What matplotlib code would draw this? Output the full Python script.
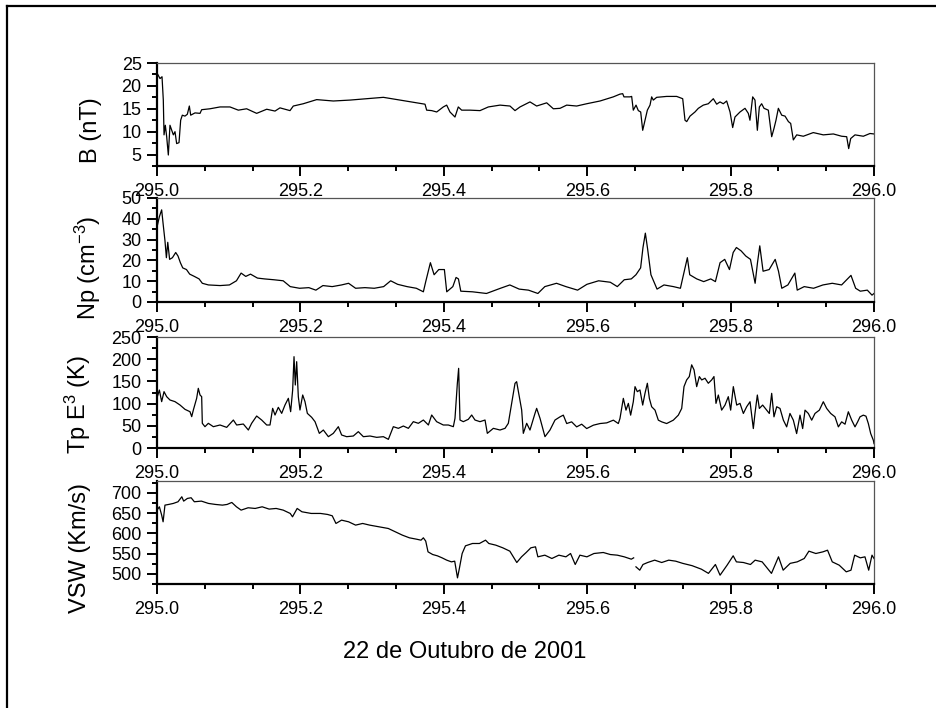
import numpy as np
import matplotlib
matplotlib.use('Agg')
import matplotlib.pyplot as plt
from matplotlib.ticker import MultipleLocator, FixedLocator, FormatStrFormatter
from matplotlib.lines import Line2D

plt.rcParams['font.family'] = ['Liberation Sans', 'DejaVu Sans']
plt.rcParams['mathtext.fontset'] = 'custom'
plt.rcParams['mathtext.rm'] = 'Liberation Sans'
plt.rcParams['mathtext.it'] = 'Liberation Sans'

DAY0 = 295.0

# magnetic field |B| (nT), time as fraction of day 295
b_day = [0.0004, 0.0042, 0.0070, 0.0088, 0.0098, 0.0116, 0.0135, 0.0158, 0.0181, 0.0205,
         0.0228, 0.0251, 0.0274, 0.0307, 0.0330, 0.0353, 0.0390, 0.0423, 0.0451, 0.0470,
         0.0530, 0.0600, 0.0623, 0.0739, 0.0879, 0.1018, 0.1134, 0.1250, 0.1390, 0.1530,
         0.1646, 0.1715, 0.1855, 0.1901, 0.2040, 0.2227, 0.2459, 0.2692, 0.2925, 0.3157,
         0.3389, 0.3622, 0.3738, 0.3761, 0.3831, 0.3901, 0.3993, 0.4040, 0.4086, 0.4156,
         0.4202, 0.4249, 0.4365, 0.4505, 0.4621, 0.4784, 0.4923, 0.4993, 0.5063, 0.5202,
         0.5295, 0.5435, 0.5528, 0.5621, 0.5714, 0.5853, 0.5993, 0.6179, 0.6364, 0.6457,
         0.6495, 0.6513, 0.6597, 0.6620, 0.6643, 0.6681, 0.6713, 0.6746, 0.6774, 0.6806,
         0.6839, 0.6876, 0.6899, 0.6922, 0.6969, 0.7108, 0.7248, 0.7332, 0.7364, 0.7388,
         0.7434, 0.7503, 0.7550, 0.7619, 0.7689, 0.7759, 0.7806, 0.7852, 0.7898, 0.7945,
         0.7992, 0.8029, 0.8061, 0.8131, 0.8201, 0.8247, 0.8270, 0.8308, 0.8340, 0.8373,
         0.8401, 0.8433, 0.8466, 0.8526, 0.8573, 0.8605, 0.8633, 0.8666, 0.8713, 0.8759,
         0.8806, 0.8838, 0.8875, 0.8922, 0.9014, 0.9153, 0.9293, 0.9433, 0.9549, 0.9619,
         0.9647, 0.9675, 0.9735, 0.9851, 0.9944, 1.0000]
b_nt = [22.7, 21.6, 22.0, 16.9, 9.3, 11.4, 8.9, 4.9, 11.4, 10.3,
        9.3, 10.0, 7.4, 7.6, 12.5, 13.6, 13.4, 13.8, 15.6, 13.6,
        14.1, 14.0, 14.8, 15.0, 15.4, 15.4, 14.7, 15.0, 14.0, 14.9,
        14.5, 15.2, 14.6, 15.6, 16.1, 17.0, 16.7, 16.9, 17.2, 17.5,
        16.9, 16.3, 16.0, 14.7, 14.6, 14.3, 15.4, 15.8, 14.3, 13.2,
        15.4, 14.7, 14.7, 14.6, 15.4, 15.8, 15.6, 14.6, 15.4, 16.5,
        15.6, 16.3, 15.0, 15.1, 15.8, 15.6, 16.1, 16.7, 17.6, 18.2,
        18.3, 17.6, 17.6, 17.7, 14.7, 15.8, 14.6, 14.3, 10.3, 12.5,
        14.7, 15.8, 17.6, 16.9, 17.5, 17.7, 17.7, 17.2, 12.5, 12.2,
        13.4, 14.3, 15.1, 15.8, 16.1, 17.2, 16.0, 16.5, 16.1, 16.7,
        14.3, 10.9, 13.2, 14.3, 15.1, 14.0, 12.5, 17.6, 16.9, 10.3,
        15.4, 16.1, 15.1, 14.7, 8.9, 10.7, 12.5, 15.1, 13.6, 13.4,
        12.2, 11.8, 8.2, 9.3, 9.0, 9.8, 9.3, 9.5, 9.0, 8.9,
        6.3, 8.5, 9.3, 9.0, 9.6, 9.5]

# proton density (cm^-3)
np_day = [0.0000, 0.0033, 0.0065, 0.0085, 0.0111, 0.0131, 0.0150, 0.0176, 0.0215, 0.0261,
          0.0293, 0.0326, 0.0359, 0.0411, 0.0456, 0.0521, 0.0587, 0.0632, 0.0717, 0.0880,
          0.1010, 0.1108, 0.1173, 0.1238, 0.1304, 0.1401, 0.1499, 0.1629, 0.1760, 0.1858,
          0.1988, 0.2118, 0.2216, 0.2314, 0.2444, 0.2574, 0.2672, 0.2770, 0.2900, 0.3030,
          0.3161, 0.3259, 0.3356, 0.3487, 0.3617, 0.3715, 0.3748, 0.3813, 0.3865, 0.3930,
          0.4008, 0.4041, 0.4126, 0.4171, 0.4204, 0.4237, 0.4400, 0.4595, 0.4790, 0.4921,
          0.5051, 0.5181, 0.5312, 0.5409, 0.5572, 0.5703, 0.5866, 0.5996, 0.6159, 0.6322,
          0.6420, 0.6517, 0.6615, 0.6680, 0.6745, 0.6778, 0.6811, 0.6843, 0.6889, 0.6974,
          0.7071, 0.7202, 0.7300, 0.7332, 0.7397, 0.7430, 0.7528, 0.7625, 0.7723, 0.7788,
          0.7853, 0.7918, 0.7984, 0.8036, 0.8081, 0.8146, 0.8212, 0.8277, 0.8342, 0.8375,
          0.8407, 0.8453, 0.8538, 0.8622, 0.8668, 0.8714, 0.8799, 0.8896, 0.8929, 0.9027,
          0.9157, 0.9288, 0.9418, 0.9548, 0.9679, 0.9744, 0.9809, 0.9907, 0.9972, 1.0000]
np_cm3 = [36.0, 41.0, 44.3, 37.7, 29.5, 21.3, 28.7, 20.5, 21.3, 23.8,
          22.1, 18.9, 16.4, 15.6, 13.4, 12.3, 11.1, 9.0, 8.2, 7.9,
          8.2, 10.2, 13.9, 12.3, 13.4, 11.5, 11.1, 10.7, 10.2, 7.4,
          6.6, 6.9, 5.7, 7.9, 7.4, 8.2, 9.0, 6.6, 6.9, 6.6,
          7.4, 10.2, 8.5, 7.4, 6.6, 4.9, 9.8, 18.9, 13.1, 15.6,
          15.6, 4.9, 7.4, 11.8, 11.1, 5.2, 4.9, 4.1, 6.6, 8.2,
          6.2, 5.7, 4.1, 7.4, 9.0, 7.4, 5.7, 8.5, 10.2, 9.5,
          7.4, 10.7, 11.1, 13.1, 16.4, 26.2, 33.1, 25.4, 13.1, 6.2,
          8.2, 7.4, 6.6, 11.5, 21.3, 13.1, 11.1, 9.8, 11.1, 9.8,
          18.9, 20.5, 15.6, 23.8, 26.2, 24.6, 22.1, 20.5, 9.0, 18.9,
          27.0, 14.8, 15.6, 20.5, 14.8, 6.6, 8.2, 13.9, 5.7, 7.4,
          6.6, 8.2, 9.0, 8.2, 12.8, 6.6, 5.2, 5.7, 3.3, 4.1]

# proton temperature (10^3 K)
tp_day = [0.0005, 0.0033, 0.0065, 0.0098, 0.0135, 0.0181, 0.0251, 0.0321, 0.0391, 0.0460,
          0.0484, 0.0507, 0.0553, 0.0576, 0.0600, 0.0623, 0.0632, 0.0669, 0.0716, 0.0786,
          0.0879, 0.0972, 0.1065, 0.1111, 0.1204, 0.1274, 0.1320, 0.1390, 0.1460, 0.1530,
          0.1576, 0.1613, 0.1646, 0.1692, 0.1739, 0.1785, 0.1832, 0.1864, 0.1892, 0.1911,
          0.1929, 0.1948, 0.1971, 0.1994, 0.2032, 0.2064, 0.2097, 0.2157, 0.2204, 0.2264,
          0.2320, 0.2390, 0.2459, 0.2529, 0.2575, 0.2645, 0.2738, 0.2808, 0.2878, 0.2971,
          0.3064, 0.3157, 0.3227, 0.3259, 0.3296, 0.3366, 0.3436, 0.3506, 0.3575, 0.3645,
          0.3715, 0.3785, 0.3831, 0.3900, 0.3993, 0.4063, 0.4133, 0.4156, 0.4189, 0.4207,
          0.4226, 0.4272, 0.4342, 0.4389, 0.4435, 0.4505, 0.4575, 0.4607, 0.4691, 0.4784,
          0.4854, 0.4900, 0.4947, 0.4993, 0.5016, 0.5053, 0.5086, 0.5109, 0.5156, 0.5202,
          0.5272, 0.5295, 0.5342, 0.5411, 0.5481, 0.5551, 0.5621, 0.5667, 0.5714, 0.5783,
          0.5853, 0.5923, 0.5993, 0.6086, 0.6179, 0.6272, 0.6365, 0.6434, 0.6457, 0.6504,
          0.6541, 0.6574, 0.6606, 0.6643, 0.6667, 0.6699, 0.6736, 0.6774, 0.6806, 0.6839,
          0.6867, 0.6899, 0.6946, 0.6992, 0.7039, 0.7108, 0.7201, 0.7271, 0.7318, 0.7350,
          0.7387, 0.7424, 0.7457, 0.7490, 0.7527, 0.7564, 0.7597, 0.7643, 0.7689, 0.7736,
          0.7768, 0.7796, 0.7829, 0.7875, 0.7922, 0.7968, 0.8001, 0.8038, 0.8085, 0.8131,
          0.8178, 0.8224, 0.8271, 0.8317, 0.8340, 0.8373, 0.8401, 0.8447, 0.8503, 0.8540,
          0.8573, 0.8605, 0.8643, 0.8689, 0.8736, 0.8782, 0.8828, 0.8875, 0.8921, 0.8968,
          0.9005, 0.9038, 0.9084, 0.9131, 0.9177, 0.9238, 0.9293, 0.9340, 0.9396, 0.9456,
          0.9503, 0.9549, 0.9596, 0.9642, 0.9689, 0.9735, 0.9772, 0.9805, 0.9851, 0.9888,
          0.9921, 0.9954, 0.9991, 1.0000]
tp_k = [115.6, 130.6, 104.4, 126.9, 115.6, 108.1, 104.4, 96.8, 87.0, 81.8,
        70.6, 85.6, 111.9, 134.4, 119.4, 115.6, 55.6, 48.0, 55.6, 48.0,
        51.8, 46.5, 63.0, 51.8, 54.0, 40.5, 55.6, 72.0, 63.0, 51.8,
        51.8, 89.3, 74.3, 91.6, 78.0, 96.8, 111.9, 81.8, 130.6, 205.7,
        141.9, 194.4, 115.6, 85.6, 119.4, 104.4, 78.0, 69.1, 59.3, 33.0,
        40.5, 25.5, 33.0, 48.0, 29.3, 25.5, 27.0, 36.8, 25.5, 27.0,
        24.0, 25.5, 19.5, 33.0, 48.0, 44.3, 49.5, 44.3, 59.3, 55.6,
        63.0, 51.8, 74.3, 59.3, 51.8, 51.8, 48.0, 66.8, 145.6, 179.4,
        63.0, 59.3, 64.6, 74.3, 63.0, 59.3, 63.0, 33.0, 44.3, 40.5,
        44.3, 55.6, 100.6, 145.6, 149.4, 115.6, 85.6, 33.0, 55.6, 40.5,
        78.0, 89.3, 66.8, 25.5, 40.5, 63.0, 70.2, 74.0, 55.1, 58.9,
        47.6, 53.6, 43.8, 51.4, 55.1, 56.6, 62.7, 55.1, 66.5, 111.8,
        85.3, 100.5, 74.0, 104.2, 138.2, 126.9, 130.7, 96.7, 123.1, 145.8,
        111.8, 92.9, 85.3, 62.7, 58.9, 55.1, 62.7, 74.0, 89.1, 138.2,
        153.3, 160.9, 187.3, 176.0, 138.2, 160.9, 153.3, 157.1, 145.8, 153.3,
        160.9, 100.5, 119.3, 85.3, 96.7, 115.6, 85.3, 138.2, 96.7, 100.5,
        77.8, 92.9, 104.2, 43.8, 77.8, 119.3, 89.1, 96.7, 85.3, 77.8,
        123.1, 70.2, 92.9, 89.1, 62.7, 47.6, 77.8, 62.7, 32.5, 74.0,
        43.8, 85.3, 77.8, 62.7, 77.8, 85.3, 104.2, 89.1, 77.8, 70.2,
        47.6, 58.9, 53.6, 81.6, 62.7, 47.6, 58.9, 70.2, 74.0, 71.7,
        55.1, 32.5, 17.4, 9.8]

# solar wind speed (km/s), data gap near 295.666
vsw_day = [0.0000, 0.0033, 0.0065, 0.0085, 0.0111, 0.0163, 0.0228, 0.0293, 0.0346, 0.0372,
           0.0424, 0.0476, 0.0521, 0.0619, 0.0717, 0.0815, 0.0913, 0.0978, 0.1043, 0.1108,
           0.1173, 0.1271, 0.1369, 0.1467, 0.1564, 0.1662, 0.1760, 0.1858, 0.1890, 0.1955,
           0.2021, 0.2151, 0.2281, 0.2379, 0.2444, 0.2496, 0.2574, 0.2672, 0.2770, 0.2868,
           0.2966, 0.3096, 0.3226, 0.3324, 0.3422, 0.3520, 0.3617, 0.3682, 0.3715, 0.3748,
           0.3780, 0.3845, 0.3910, 0.3976, 0.4041, 0.4106, 0.4152, 0.4191, 0.4217, 0.4256,
           0.4302, 0.4400, 0.4497, 0.4582, 0.4628, 0.4725, 0.4823, 0.4921, 0.5018, 0.5084,
           0.5149, 0.5214, 0.5279, 0.5312, 0.5409, 0.5507, 0.5605, 0.5703, 0.5768, 0.5833,
           0.5898, 0.5996, 0.6094, 0.6224, 0.6322, 0.6420, 0.6517, 0.6615, 0.6648, 0.6660,
           0.6680, 0.6733, 0.6778, 0.6843, 0.6941, 0.7039, 0.7137, 0.7234, 0.7332, 0.7463,
           0.7593, 0.7691, 0.7788, 0.7853, 0.7951, 0.8036, 0.8081, 0.8179, 0.8277, 0.8342,
           0.8440, 0.8570, 0.8668, 0.8733, 0.8831, 0.8929, 0.9027, 0.9092, 0.9189, 0.9288,
           0.9352, 0.9418, 0.9515, 0.9613, 0.9679, 0.9730, 0.9809, 0.9874, 0.9926, 0.9972,
           1.0000]
vsw_kms = [657.0, 665.4, 644.9, 628.4, 669.5, 671.2, 673.7, 677.8, 690.1, 679.4,
           686.0, 687.7, 677.8, 679.4, 673.7, 671.2, 669.5, 671.2, 676.1, 665.4,
           657.2, 663.0, 661.3, 665.4, 659.7, 661.3, 657.2, 649.0, 640.7, 661.3,
           653.1, 649.0, 649.0, 646.5, 643.2, 624.3, 632.5, 628.4, 620.2, 624.3,
           620.2, 616.1, 611.9, 603.7, 595.5, 588.9, 585.6, 583.1, 588.9, 580.7,
           554.3, 547.7, 544.5, 539.5, 533.8, 529.6, 531.3, 490.1, 513.2, 550.2,
           569.1, 574.9, 574.9, 583.1, 574.9, 570.8, 564.2, 556.0, 528.0, 542.0,
           552.7, 564.2, 566.7, 542.0, 546.1, 537.9, 546.1, 542.0, 550.2, 523.1,
           546.1, 542.0, 550.2, 552.7, 547.7, 546.1, 542.0, 536.2, 539.5, np.nan,
           517.3, 509.1, 523.1, 528.0, 533.8, 528.0, 533.8, 531.3, 525.9, 520.2,
           511.5, 501.2, 523.1, 496.7, 521.4, 544.5, 529.6, 528.0, 523.1, 533.8,
           529.6, 501.2, 542.0, 509.1, 525.9, 529.6, 537.9, 556.0, 550.2, 554.3,
           558.4, 529.6, 521.4, 505.0, 509.1, 546.1, 539.5, 542.0, 509.1, 546.1,
           537.9]

panels = [
    # (x, y, ylim, major, minor, label, label x/y in pixels)
    (b_day, b_nt, (2.5, 25), 5, 2.5, 'B (nT)', (91, 130)),
    (np_day, np_cm3, (0, 50), 10, 5, r'Np (cm$^{\mathregular{-3}}$)', (88, 268)),
    (tp_day, tp_k, (0, 250), 50, 25, r'Tp E$^{\mathregular{3}}$ (K)', (78, 405)),
    (vsw_day, vsw_kms, (475, 729), 50, 25, 'VSW (Km/s)', (80, 548)),
]
# axes boxes in pixels: top, bottom
boxes = [(63, 166), (198, 302), (337, 448), (481, 584)]

W, H = 936, 708
fig = plt.figure(figsize=(W / 100, H / 100), dpi=100)

left, right = 157, 874
for (xd, yd, ylim, major, minor, label, lpos), (top, bot) in zip(panels, boxes):
    ax = fig.add_axes([left / W, 1 - bot / H, (right - left) / W, (bot - top) / H])
    ax.plot(DAY0 + np.array(xd), yd, color='black', lw=0.9)
    ax.set_xlim(295.0, 296.0)
    ax.set_ylim(*ylim)
    ax.xaxis.set_major_locator(FixedLocator(np.linspace(295.0, 296.0, 6)))
    ax.xaxis.set_minor_locator(FixedLocator(np.linspace(295.0, 296.0, 16)))
    ax.xaxis.set_major_formatter(FormatStrFormatter('%.1f'))
    ax.yaxis.set_major_locator(MultipleLocator(major))
    ax.yaxis.set_minor_locator(MultipleLocator(minor))
    ax.tick_params(which='both', direction='out', top=False, right=False,
                   width=1.4, labelsize=13, pad=4)
    ax.tick_params(which='major', length=7)
    ax.tick_params(which='minor', length=3.5)
    ax.tick_params(axis='x', pad=5)
    for s in ('left', 'bottom'):
        ax.spines[s].set_linewidth(1.6)
        ax.spines[s].set_color('black')
    for s in ('top', 'right'):
        ax.spines[s].set_linewidth(0.9)
        ax.spines[s].set_color('#555555')
    fig.text(lpos[0] / W, 1 - lpos[1] / H, label, rotation=90,
             ha='center', va='center', fontsize=17)

fig.text(465 / W, 1 - 652 / H, '22 de Outubro de 2001', ha='center', va='center',
         fontsize=17)

# outer frame (only left and top edges fall inside the picture)
fig.add_artist(Line2D([7 / W, 7 / W], [0, 1 - 6 / H], transform=fig.transFigure,
                      color='black', lw=1.6))
fig.add_artist(Line2D([7 / W, 1], [1 - 6 / H, 1 - 6 / H], transform=fig.transFigure,
                      color='black', lw=1.6))

fig.savefig('out.png', dpi=100)
